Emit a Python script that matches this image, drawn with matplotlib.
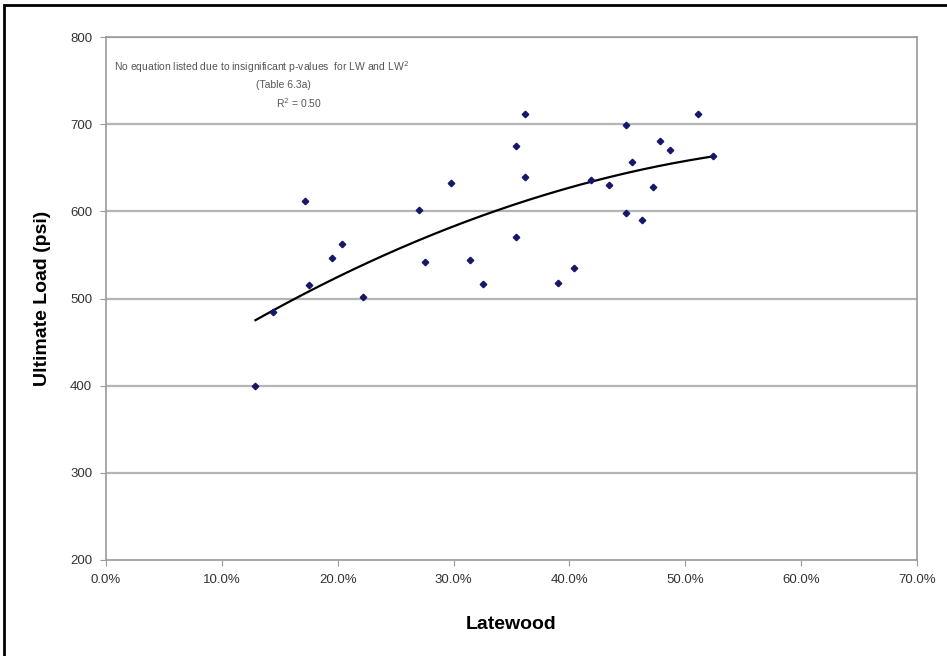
import numpy as np
import matplotlib
matplotlib.use("Agg")
import matplotlib.pyplot as plt
from matplotlib.patches import Rectangle
from matplotlib.ticker import FuncFormatter

plt.rcParams['font.family'] = ['Liberation Sans', 'DejaVu Sans']

latewood = [12.9, 14.4, 17.2, 17.5, 19.5, 20.4, 22.2, 27.0, 27.5, 29.8,
            31.4, 32.5, 35.4, 35.4, 36.2, 36.2, 39.0, 40.4, 41.9, 43.4,
            44.9, 44.9, 45.4, 46.3, 47.2, 47.8, 48.7, 51.1, 52.4]
ultimate_load = [400, 485, 612, 516, 547, 563, 502, 602, 542, 632,
                 544, 517, 571, 675, 712, 639, 518, 535, 636, 630,
                 699, 598, 657, 590, 628, 681, 670, 712, 663]
# points (2nd order polynomial)
trend_x = [12.9, 15.6, 21.2, 32.8, 52.4]
trend_y = [474, 497, 531, 597, 663]
x_ticks = [0, 10, 20, 30, 40, 50, 60, 70]
y_ticks = [200, 300, 400, 500, 600, 700, 800]

fig = plt.figure(figsize=(9.47, 6.56), dpi=100)
ax = fig.add_axes([106/947, 1-560/656, (917-106)/947, (560-37)/656])

# outer border
fig.patches.append(Rectangle((4/947, -0.05), 1.05, 1-5/656+0.05, transform=fig.transFigure,
                             fill=False, edgecolor='black', linewidth=2))

for y in y_ticks[1:]:
    ax.axhline(y, color='#b5b5b5', linewidth=1.6, zorder=1)

x = np.array(latewood)
y = np.array(ultimate_load)
coef = np.polyfit(trend_x, trend_y, 2)
xs = np.linspace(min(trend_x), max(trend_x), 200)
ax.plot(xs, np.polyval(coef, xs), color='black', linewidth=1.6, zorder=2)
ax.plot(x, y, linestyle='none', marker='D', markersize=3.3, color='#16166a', zorder=3)

ax.set_xlim(0, 70)
ax.set_ylim(200, 800)
ax.set_xticks(x_ticks)
ax.set_yticks(y_ticks)
ax.xaxis.set_major_formatter(FuncFormatter(lambda v, p: f"{v:.1f}%"))
for s in ax.spines.values():
    s.set_color('#9a9a9a')
    s.set_linewidth(1.2)
ax.tick_params(direction='out', length=4, color='#9a9a9a', labelsize=9.5,
               labelcolor='#333333', pad=6)
ax.set_xlabel('Latewood', fontsize=14, fontweight='bold', labelpad=22)
ax.set_ylabel('Ultimate Load (psi)', fontsize=14, fontweight='bold', labelpad=14)

tkw = dict(fontsize=7.5, color='#555555', ha='center', va='center', transform=ax.transData)
ax.text(13.4, 766, 'No equation listed due to insignificant p-values  for LW and LW$^2$', **tkw)
ax.text(15.3, 745, '(Table 6.3a)', **tkw)
ax.text(16.7, 724, 'R$^2$ = 0.50', **tkw)

fig.savefig('out.png', dpi=100)
